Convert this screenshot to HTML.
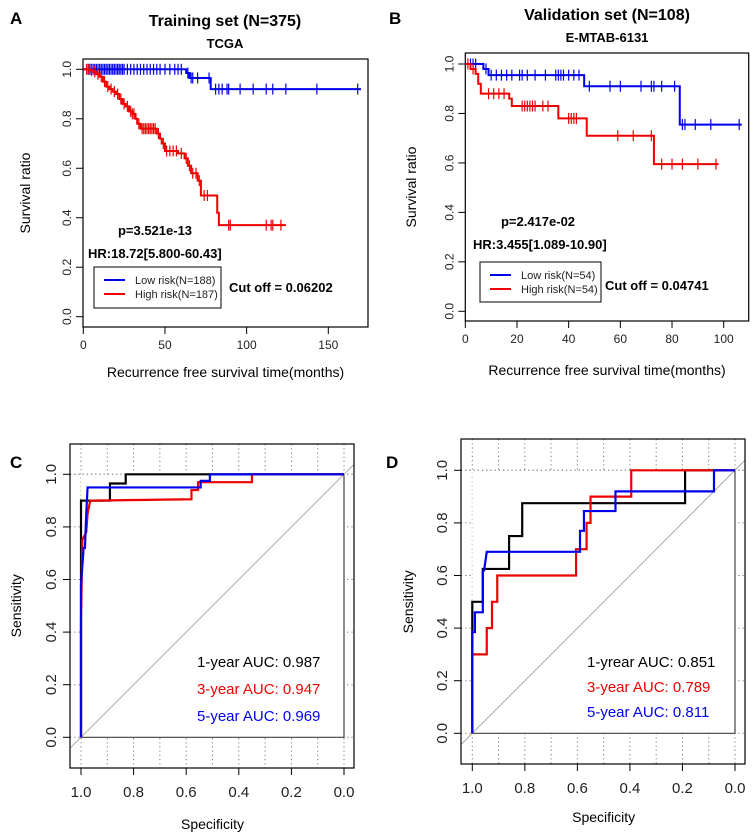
<!DOCTYPE html>
<html><head><meta charset="utf-8"><style>
html,body{margin:0;padding:0;background:#fff;}
svg{display:block;font-family:"Liberation Sans",Arial,sans-serif;}
</style></head><body>
<svg id="fig" width="753" height="836" viewBox="0 0 753 836">
<text x="10" y="24" font-size="17" font-weight="bold">A</text>
<text x="389" y="24" font-size="17" font-weight="bold">B</text>
<text x="10" y="468" font-size="17" font-weight="bold">C</text>
<text x="386" y="468" font-size="17" font-weight="bold">D</text>
<g id="pa"></g>
<g id="pb"></g>
<g id="pc"></g>
<g id="pd"></g>
</svg>
<script>
// ---------- Panel A data ----------
const aXTicks = [0, 50, 100, 150];
const aYTicks = [0, 0.2, 0.4, 0.6, 0.8, 1.0];
const aLowTimes = [0, 63, 65, 78];
const aLowSurv = [1.0, 0.985, 0.965, 0.92];
const aLowEnd = 170;
const aLowCensor = [3,4,5,6,7,8,9,10,11,12,13,14,15,16,17,18,19,20,21,22,23,24,25,27,29,31,33,35,37,39,41,43,45,47,50,53,56,58,60,64,66,67,70,77,81,83,85,88,89,96,104,112,116,124,143,168];
const aHighTimes = [0,4,6,8,10,12,14,16,18,20,22,24,26,28,30,32,33,35,45,47,48,50,58,62,64,66,70,72,82,83];
const aHighSurv = [1.0,0.995,0.99,0.98,0.97,0.95,0.93,0.92,0.91,0.90,0.88,0.86,0.85,0.83,0.82,0.80,0.78,0.76,0.74,0.72,0.70,0.67,0.66,0.64,0.61,0.58,0.55,0.49,0.42,0.37];
const aHighEnd = 124;
const aHighCensor = [2,3,5,7,9,11,13,15,17,19,21,23,25,27,29,30,31,34,36,37,38,39,40,41,42,43,44,46,49,51,53,55,57,60,63,65,67,69,71,74,76,89,90,112,115,116,121];
// ---------- Panel B data ----------
const bXTicks = [0, 20, 40, 60, 80, 100];
const bYTicks = [0, 0.2, 0.4, 0.6, 0.8, 1.0];
const bLowTimes = [0, 7, 9, 46, 83];
const bLowSurv = [1.0, 0.98, 0.955, 0.91, 0.755];
const bLowEnd = 107;
const bLowCensor = [2,3,4,8,10,12,14,16,18,21,22,24,27,31,35,36,37,38,40,42,44,48,56,60,68,72,73,76,81,84,85,89,95,106];
const bHighTimes = [0, 2, 4, 5, 6, 17, 18, 36, 47, 73];
const bHighSurv = [1.0, 0.98, 0.96, 0.92, 0.88, 0.86, 0.83, 0.78, 0.71, 0.595];
const bHighEnd = 98;
const bHighCensor = [1,3,9,11,13,15,22,23,24,25,26,27,30,32,40,41,42,43,59,65,72,76,80,84,90,97];
// ---------- Panel C data (specificity, sensitivity) ----------
const cSpecTicks = [1.0, 0.8, 0.6, 0.4, 0.2, 0.0];
const cSensTicks = [0.0, 0.2, 0.4, 0.6, 0.8, 1.0];
const c1Spec = [1,1,0.89,0.89,0.83,0.83,0];
const c1Sens = [0,0.9,0.9,0.965,0.965,1,1];
const c3Spec = [1,1,0.995,0.98,0.975,0.965,0.58,0.58,0.555,0.555,0.35,0.35,0];
const c3Sens = [0,0.44,0.75,0.78,0.85,0.9,0.905,0.94,0.94,0.97,0.97,1,1];
const c5Spec = [1,1,0.99,0.985,0.98,0.975,0.545,0.545,0.51,0.51,0];
const c5Sens = [0,0.58,0.72,0.72,0.85,0.95,0.95,0.975,0.975,1,1];
const cLabels = ["1-year AUC: 0.987","3-year AUC: 0.947","5-year AUC: 0.969"];
// ---------- Panel D data ----------
const d1Spec = [1,1,0.96,0.96,0.86,0.86,0.81,0.81,0.19,0.19,0];
const d1Sens = [0,0.5,0.5,0.625,0.625,0.75,0.75,0.875,0.875,1,1];
const d3Spec = [1,1,0.945,0.945,0.925,0.925,0.905,0.905,0.605,0.605,0.565,0.565,0.55,0.55,0.395,0.395,0];
const d3Sens = [0,0.3,0.3,0.4,0.4,0.5,0.5,0.6,0.6,0.7,0.7,0.8,0.8,0.9,0.9,1,1];
const d5Spec = [1,1,0.99,0.99,0.96,0.96,0.955,0.945,0.59,0.59,0.575,0.575,0.455,0.455,0.08,0.08,0];
const d5Sens = [0,0.385,0.385,0.46,0.46,0.615,0.62,0.69,0.69,0.77,0.77,0.845,0.845,0.92,0.92,1,1];
const dLabels = ["1-yrear AUC: 0.851","3-year AUC: 0.789","5-year AUC: 0.811"];

const NS = "http://www.w3.org/2000/svg";
function mk(parent, tag, attrs, text){
  const e = document.createElementNS(NS, tag);
  for (const k in attrs) e.setAttribute(k, attrs[k]);
  if (text !== undefined) e.textContent = text;
  parent.appendChild(e);
  return e;
}
function lin(d0,d1,r0,r1){ return v => r0 + (v-d0)*(r1-r0)/(d1-d0); }

function kmPanel(g, cfg){
  const sx = lin(0, cfg.xMaxVal, cfg.x0, cfg.xMaxPx);
  const sy = lin(0, 1, cfg.y0, cfg.y1);
  const box = mk(g,'rect',{x:cfg.bx,y:cfg.by,width:cfg.bw,height:cfg.bh,fill:'none',stroke:'#000','stroke-width':1.2});
  
  
  const by2 = cfg.by+cfg.bh;
  cfg.xTicks.forEach(t=>{
    const x = sx(t);
    const l = mk(g,'line',{x1:x,x2:x,y1:by2,y2:by2+7,stroke:'#000'});
    
    
    const tx = mk(g,'text',{x:x,y:by2+22,'font-size':12,'text-anchor':'middle',fill:'#222'},String(t));
    
    
  });
  const xa = mk(g,'line',{x1:sx(cfg.xTicks[0]),x2:sx(cfg.xTicks[cfg.xTicks.length-1]),y1:by2,y2:by2,stroke:'#000'});
  
  
  cfg.yTicks.forEach(t=>{
    const y = sy(t);
    const l = mk(g,'line',{x1:cfg.bx-7,x2:cfg.bx,y1:y,y2:y,stroke:'#000'});
    
    
    const tx = mk(g,'text',{x:0,y:0,'font-size':12,'text-anchor':'middle',fill:'#222',transform:`translate(${cfg.bx-12},${y}) rotate(-90)`},t.toFixed(1));
    
    
  });
  function series(times,surv,end,cens,color,name){
    let d = `M${sx(times[0])},${sy(surv[0])}`;
    for(let i=1;i<times.length;i++){ d += ` H${sx(times[i])} V${sy(surv[i])}`; }
    d += ` H${sx(end)}`;
    const p = mk(g,'path',{d:d,fill:'none',stroke:color,'stroke-width':2});
    
    
    cens.forEach(t=>{
      let s = surv[0];
      for(let i=0;i<times.length;i++){ if(times[i]<=t) s=surv[i]; }
      const x=sx(t), y=sy(s);
      const c = mk(g,'line',{x1:x,x2:x,y1:y-5.5,y2:y+5.5,stroke:color,'stroke-width':1.2});
      
      
    });
  }
  series(cfg.lowT,cfg.lowS,cfg.lowE,cfg.lowC,'#0000ee','low-risk');
  series(cfg.highT,cfg.highS,cfg.highE,cfg.highC,'#ee0000','high-risk');
  const ti = mk(g,'text',{x:cfg.titleX,y:cfg.titleY,'font-size':16,'font-weight':'bold','text-anchor':'middle'},cfg.title);
  
  
  const st = mk(g,'text',{x:cfg.titleX,y:cfg.titleY+22,'font-size':13,'font-weight':'bold','text-anchor':'middle'},cfg.sub);
  
  
  const yl = mk(g,'text',{x:0,y:0,'font-size':14,'text-anchor':'middle',transform:`translate(${cfg.ylx},${(cfg.by+by2)/2}) rotate(-90)`},'Survival ratio');
  
  
  const xl = mk(g,'text',{x:(cfg.bx+cfg.bx+cfg.bw)/2,y:cfg.xly,'font-size':14,'text-anchor':'middle'},'Recurrence free survival time(months)');
  
  
  const pv = mk(g,'text',{x:cfg.pX,y:cfg.pY,'font-size':13,'font-weight':'bold','text-anchor':'middle'},cfg.pText);
  
  
  const hr = mk(g,'text',{x:cfg.hrX,y:cfg.hrY,'font-size':13,'font-weight':'bold'},cfg.hrText);
  
  
  const lg = mk(g,'g',{});
  
  
  mk(lg,'rect',{x:cfg.lgX,y:cfg.lgY,width:cfg.lgW,height:cfg.lgH,fill:'#fff',stroke:'#000'});
  [['#0000ee',cfg.lowLab,'legend-entry-low-risk'],['#ee0000',cfg.highLab,'legend-entry-high-risk']].forEach((e,i)=>{
    const yy = cfg.lgY + 13 + i*14;
    const ge = mk(lg,'g',{});
    
    
    mk(ge,'line',{x1:cfg.lgX+10,x2:cfg.lgX+31,y1:yy,y2:yy,stroke:e[0],'stroke-width':2});
    mk(ge,'text',{x:cfg.lgX+41,y:yy+4,'font-size':11,fill:'#222'},e[1]);
  });
  const co = mk(g,'text',{x:cfg.coX,y:cfg.coY,'font-size':13,'font-weight':'bold'},cfg.coText);
  
  
}

kmPanel(document.getElementById('pa'),{
  xMaxVal:150,x0:83.3,xMaxPx:328.3,y0:316.7,y1:69.3,
  bx:83,by:59,bw:285,bh:268,xTicks:aXTicks,yTicks:aYTicks,
  lowT:aLowTimes,lowS:aLowSurv,lowE:aLowEnd,lowC:aLowCensor,
  highT:aHighTimes,highS:aHighSurv,highE:aHighEnd,highC:aHighCensor,
  title:'Training set (N=375)',sub:'TCGA',titleX:225,titleY:26,
  ylx:30,xly:377,pX:155,pY:235,pText:'p=3.521e-13',hrX:88,hrY:258,hrText:'HR:18.72[5.800-60.43]',
  lgX:94,lgY:267,lgW:127,lgH:41,lowLab:'Low risk(N=188)',highLab:'High risk(N=187)',
  coX:229,coY:292,coText:'Cut off = 0.06202'
});
kmPanel(document.getElementById('pb'),{
  xMaxVal:100,x0:465.3,xMaxPx:723.7,y0:311.3,y1:64,
  bx:465.3,by:53,bw:283.4,bh:268,xTicks:bXTicks,yTicks:bYTicks,
  lowT:bLowTimes,lowS:bLowSurv,lowE:bLowEnd,lowC:bLowCensor,
  highT:bHighTimes,highS:bHighSurv,highE:bHighEnd,highC:bHighCensor,
  title:'Validation set (N=108)',sub:'E-MTAB-6131',titleX:607,titleY:20,
  ylx:416,xly:375,pX:538,pY:226,pText:'p=2.417e-02',hrX:473,hrY:249,hrText:'HR:3.455[1.089-10.90]',
  lgX:480,lgY:262,lgW:121,lgH:40,lowLab:'Low risk(N=54)',highLab:'High risk(N=54)',
  coX:605,coY:290,coText:'Cut off = 0.04741'
});

function rocPanel(g,cfg){
  const sx = lin(1,0,cfg.x1,cfg.x0);
  const sy = lin(0,1,cfg.y0,cfg.y1);
  const by2 = cfg.by+cfg.bh, bx2 = cfg.bx+cfg.bw;
  for(let i=0;i<=10;i++){
    const x = sx(i/10);
    const l = mk(g,'line',{x1:x,x2:x,y1:cfg.by,y2:by2,stroke:'#777','stroke-dasharray':'1.2,3','stroke-width':1});
    
    
  }
  cfg.sensTicks.forEach(t=>{
    const y = sy(t);
    const l = mk(g,'line',{x1:cfg.bx,x2:bx2,y1:y,y2:y,stroke:'#777','stroke-dasharray':'1.2,3','stroke-width':1});
    
    
  });
  const inner = mk(g,'rect',{x:sx(1),y:sy(1),width:sx(0)-sx(1),height:sy(0)-sy(1),fill:'#fff',stroke:'none'});
  
  
  const rEdge = mk(g,'path',{d:`M${sx(0)},${sy(1)} V${sy(0)} H${sx(1)}`,fill:'none',stroke:'#444','stroke-width':1.2});
  
  
  const top = mk(g,'line',{x1:cfg.bx,x2:bx2,y1:sy(1),y2:sy(1),stroke:'#777','stroke-dasharray':'1.2,3'});
  
  
  const specL = 1 - (cfg.bx - sx(1))/(sx(0)-sx(1));
  const specR = 1 - (bx2 - sx(1))/(sx(0)-sx(1));
  const diag = mk(g,'line',{x1:cfg.bx,y1:sy(1-specL),x2:bx2,y2:sy(1-specR),stroke:'#aaa','stroke-width':1});
  
  
  const box = mk(g,'rect',{x:cfg.bx,y:cfg.by,width:cfg.bw,height:cfg.bh,fill:'none',stroke:'#000','stroke-width':1.2});
  
  
  cfg.specTicks.forEach(t=>{
    const x = sx(t);
    const l = mk(g,'line',{x1:x,x2:x,y1:by2,y2:by2+7,stroke:'#000'});
    
    
    const tx = mk(g,'text',{x:x,y:by2+29,'font-size':15,'text-anchor':'middle',fill:'#222'},t.toFixed(1));
    
    
  });
  cfg.sensTicks.forEach(t=>{
    const y = sy(t);
    const l = mk(g,'line',{x1:cfg.bx-7,x2:cfg.bx,y1:y,y2:y,stroke:'#000'});
    
    
    const tx = mk(g,'text',{x:0,y:0,'font-size':15,'text-anchor':'middle',fill:'#222',transform:`translate(${cfg.bx-14},${y}) rotate(-90)`},t.toFixed(1));
    
    
  });
  const yl = mk(g,'text',{x:0,y:0,'font-size':14,'text-anchor':'middle',transform:`translate(${cfg.ylx},${(sy(0)+sy(1))/2}) rotate(-90)`},'Sensitivity');
  
  
  const xl = mk(g,'text',{x:(sx(0)+sx(1))/2,y:cfg.xly,'font-size':14,'text-anchor':'middle'},'Specificity');
  
  
  const colors=['#000','#ee0000','#0000ee'];
  const names=['roc-1-year','roc-3-year','roc-5-year'];
  cfg.curves.forEach((c,i)=>{
    let d='';
    c[0].forEach((s,j)=>{ d += (j?' L':'M') + sx(s)+','+sy(c[1][j]); });
    const p = mk(g,'path',{d:d,fill:'none',stroke:colors[i],'stroke-width':2.2});
    
    
  });
  cfg.labels.forEach((t,i)=>{
    const tx = mk(g,'text',{x:cfg.lx,y:cfg.ly+i*cfg.ldy,'font-size':15,fill:colors[i]},t);
    
    
  });
}
rocPanel(document.getElementById('pc'),{
  x1:81,x0:344,y0:737.3,y1:474.3,bx:70,by:444,bw:284,bh:324,
  specTicks:cSpecTicks,sensTicks:cSensTicks,curves:[[c1Spec,c1Sens],[c3Spec,c3Sens],[c5Spec,c5Sens]],
  labels:cLabels,lx:197,ly:667,ldy:27,ylx:21,xly:829
});
rocPanel(document.getElementById('pd'),{
  x1:472.3,x0:735,y0:733.3,y1:470.3,bx:461,by:439,bw:284,bh:325,
  specTicks:cSpecTicks,sensTicks:cSensTicks,curves:[[d1Spec,d1Sens],[d3Spec,d3Sens],[d5Spec,d5Sens]],
  labels:dLabels,lx:587,ly:667,ldy:25,ylx:413,xly:822
});
</script>
</body></html>
